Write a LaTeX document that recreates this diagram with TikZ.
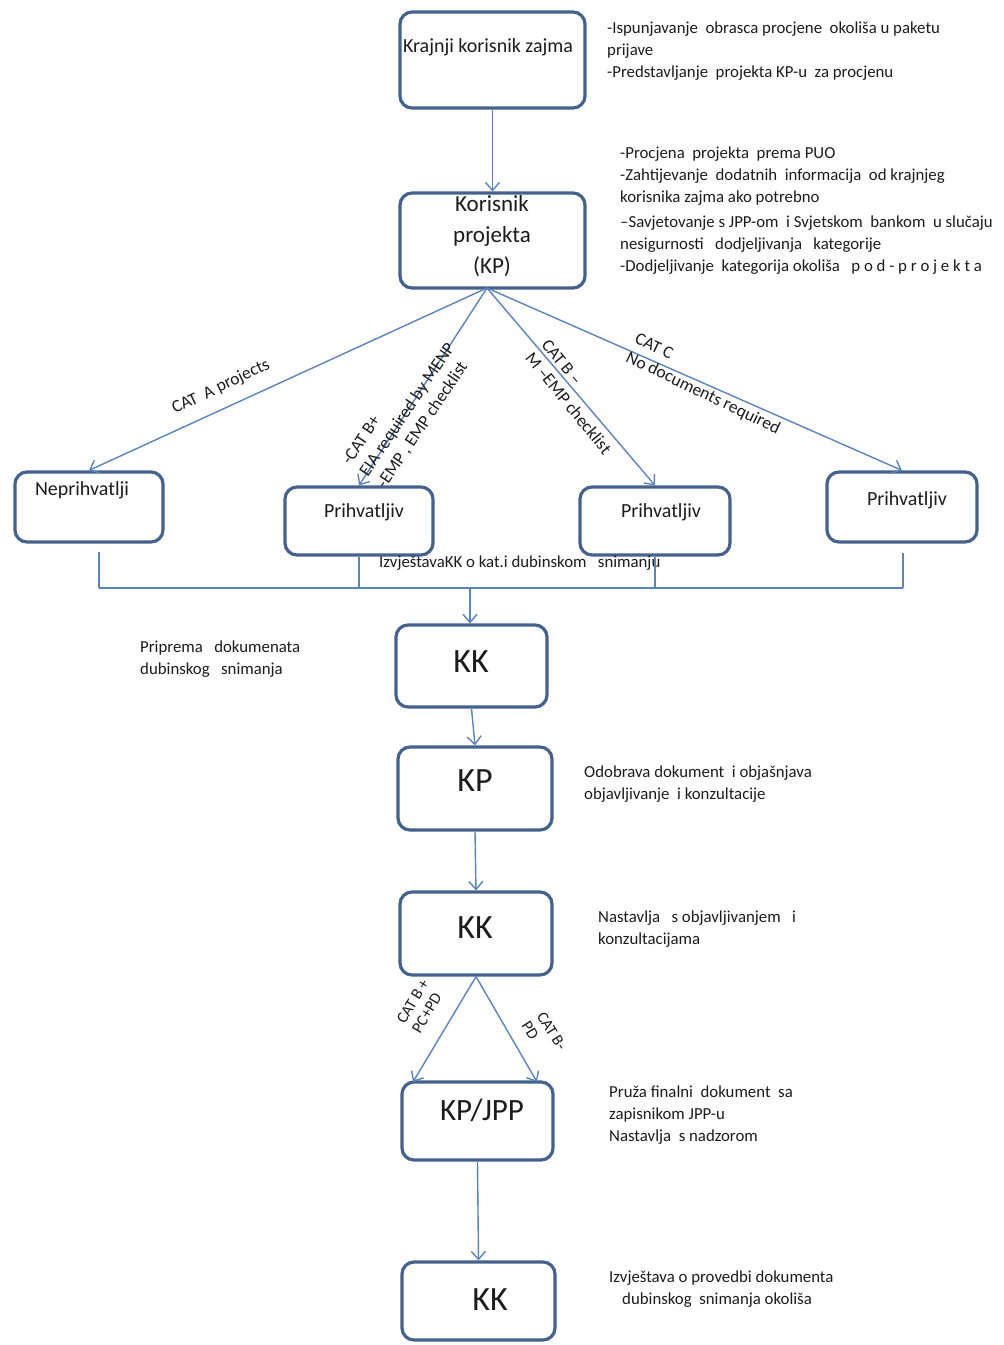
\documentclass[tikz,border=0pt]{standalone}
\usepackage{fontspec}
\setmainfont{Carlito}
\usetikzlibrary{arrows.meta,calc}
\definecolor{boxc}{RGB}{68,98,140}
\definecolor{linec}{RGB}{92,132,186}
\definecolor{txtc}{RGB}{28,28,28}
\begin{document}
\begin{tikzpicture}[x=1pt,y=-1pt,
  box/.style={draw=boxc,line width=3.2pt,rounded corners=12pt,fill=white,inner sep=0pt},
  arr/.style={draw=linec,line width=1.4pt,-{Straight Barb[length=8pt,width=14pt,line width=1.4pt]}},
  busline/.style={draw=linec,line width=1.1pt},
  blab/.style={text=txtc,inner sep=0pt,font=\fontsize{20}{24}\selectfont},
  big/.style={text=txtc,inner sep=0pt,font=\fontsize{34}{40}\selectfont},
  note/.style={text=txtc,inner sep=0pt,align=left,anchor=north west,font=\fontsize{16.8}{22}\selectfont},
  clab/.style={text=txtc,inner sep=0pt,align=left,font=\fontsize{17.5}{21}\selectfont},
]
\useasboundingbox[fill=white] (0,0) rectangle (1004,1345);

% boxes
\node[box,minimum width=185pt,minimum height=96pt] (b1) at (492.5,60) {};
\node[box,minimum width=185pt,minimum height=95pt] (b2) at (492.5,240.5) {};
\node[box,minimum width=148pt,minimum height=70pt] (nep) at (89,507) {};
\node[box,minimum width=148pt,minimum height=68pt] (p1) at (359,521) {};
\node[box,minimum width=150pt,minimum height=68pt] (p2) at (655,521) {};
\node[box,minimum width=150pt,minimum height=70pt] (p3) at (902,507) {};
\node[box,minimum width=151pt,minimum height=82pt] (kk1) at (471.5,666) {};
\node[box,minimum width=154pt,minimum height=83pt] (kp) at (475,788.5) {};
\node[box,minimum width=152pt,minimum height=83pt] (kk2) at (476,933.5) {};
\node[box,minimum width=151pt,minimum height=78pt] (jpp) at (477.5,1121) {};
\node[box,minimum width=153pt,minimum height=78pt] (kk3) at (478.5,1301) {};

% box texts
\node[blab] (t1) at (488,47) {Krajnji korisnik zajma};
\node[blab,align=center,font=\fontsize{23}{31}\selectfont] (t2) at (492,236) {Korisnik\\projekta\\(KP)};
\node[blab] (tnep) at (82,490) {Neprihvatlji};
\node[blab] (tp1) at (364,512) {Prihvatljiv};
\node[blab] (tp2) at (661,512) {Prihvatljiv};
\node[blab] (tp3) at (907,500) {Prihvatljiv};
\node[big] (tkk1) at (471,662) {KK};
\node[big] (tkp) at (475,781) {KP};
\node[big] (tkk2) at (475,928) {KK};
\node[big,font=\fontsize{31}{36}\selectfont] (tjpp) at (482,1110) {KP/JPP};
\node[big] (tkk3) at (490,1300) {KK};

% notes
\node[note] (n1) at (607,22) {-Ispunjavanje\ \ obrasca procjene\ \ okoliša u paketu\\prijave\\-Predstavljanje\ \ projekta KP-u\ \ za procjenu};
\node[note] (n2) at (620,147) {-Procjena\ \ projekta\ \ prema PUO\\-Zahtijevanje\ \ dodatnih\ \ informacija\ \ od krajnjeg\\korisnika zajma ako potrebno\\[3pt]--Savjetovanje s JPP-om\ \ i Svjetskom\ \ bankom\ \ u slučaju\\nesigurnosti\ \ \ dodjeljivanja\ \ \ kategorije\\-Dodjeljivanje\ \ kategorija okoliša\ \ \ p o d - p r o j e k t a};
\node[note] (n3) at (140,641) {Priprema\ \ \ dokumenata\\dubinskog\ \ \ snimanja};
\node[note] (n4) at (584,766) {Odobrava dokument\ \ i objašnjava\\objavljivanje\ \ i konzultacije};
\node[note] (n5) at (598,911) {Nastavlja\ \ \ s objavljivanjem\ \ \ i\\konzultacijama};
\node[note] (n6) at (609,1086) {Pruža finalni\ \ dokument\ \ sa\\zapisnikom JPP-u\\Nastavlja\ \ s nadzorom};
\node[note] (n7) at (609,1271) {Izvještava o provedbi dokumenta\\\hspace*{13pt}dubinskog\ \ snimanja okoliša};
\node[note,anchor=west] (n8) at (379,563) {IzvještavaKK o kat.i dubinskom\ \ \ snimanju};

% connectors
\coordinate (fan) at (487,288);
\draw[arr] (b1.south) -- (b2.north);
\draw[arr] (fan) -- (nep.north);
\draw[arr] (fan) -- (p1.north);
\draw[arr] (fan) -- (p2.north);
\draw[arr] (fan) -- (p3.north);

% diagonal labels
\node[clab,rotate=25.5] (la) at (221,387) {CAT\ \ A projects};
\node[clab,rotate=56,anchor=west] (lbp) at (364,475) {-CAT B+\\EIA required by MENP\\-EMP , EMP checklist};
\node[clab,rotate=-51,anchor=west] (lbm) at (537,348) {CAT B –\\M –EMP checklist};
\node[clab,rotate=-25.5,anchor=west] (lc) at (631,348) {CAT C\\No documents required};

% bus
\coordinate (busL) at (99,588);
\coordinate (busR) at (903,588);
\draw[busline] (busL) -- (busR);
\draw[busline] (busL) -- (99,552);
\draw[busline] (p1.south) -- (p1.south |- busL);
\draw[busline] (p2.south) -- (p2.south |- busL);
\draw[busline] (busR) -- (903,553);
\draw[arr] (470,588) -- (kk1.north -| 470,0);

\draw[arr] (kk1.south) -- (kp.north);
\draw[arr] (kp.south) -- (kk2.north);
\coordinate (jl) at (413,1082);
\coordinate (jr) at (537,1082);
\draw[arr] (kk2.south) -- (jl);
\draw[arr] (kk2.south) -- (jr);
\node[clab,rotate=59,anchor=west,font=\fontsize{16}{18}\selectfont] (lbb1) at (408,1027) {CAT B +\\PC+PD};
\node[clab,rotate=-58,anchor=west,font=\fontsize{16}{18}\selectfont] (lbb2) at (533,1018) {CAT B-\\PD};
\draw[arr] (jpp.south) -- (kk3.north);
\end{tikzpicture}
\end{document}
